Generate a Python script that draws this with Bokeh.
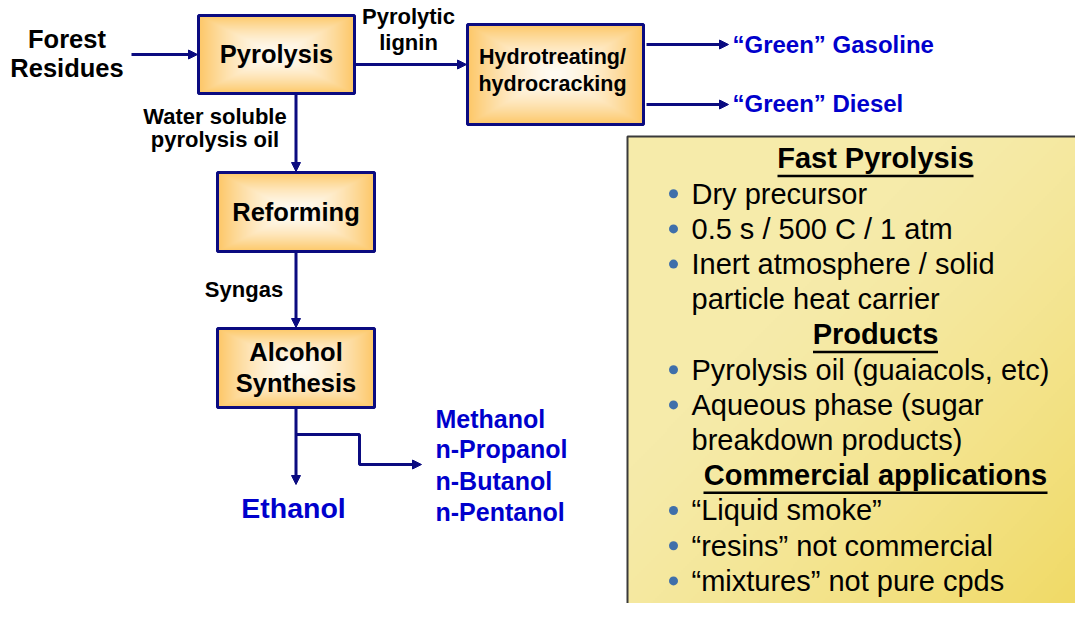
import numpy as np
from bokeh.plotting import figure
from bokeh.models import Range1d, Arrow, NormalHead
from bokeh.core.properties import value
from bokeh.embed import file_html
from bokeh.resources import INLINE

# ---------------- content ----------------
feed_lines = ["Forest", "Residues"]
box_labels = [["Pyrolysis"], ["Hydrotreating/", "hydrocracking"], ["Reforming"], ["Alcohol", "Synthesis"]]
stream_labels = [["Pyrolytic", "lignin"], ["Water soluble", "pyrolysis oil"], ["Syngas"]]
fuel_products = ["\u201cGreen\u201d Gasoline", "\u201cGreen\u201d Diesel"]
ethanol_product = ["Ethanol"]
other_alcohols = ["Methanol", "n-Propanol", "n-Butanol", "n-Pentanol"]
panel_headers = ["Fast Pyrolysis", "Products", "Commercial applications"]
panel_bullets = [
    [["Dry precursor"], ["0.5 s / 500 C / 1 atm"], ["Inert atmosphere / solid", "particle heat carrier"]],
    [["Pyrolysis oil (guaiacols, etc)"], ["Aqueous phase (sugar", "breakdown products)"]],
    [["\u201cLiquid smoke\u201d"], ["\u201cresins\u201d not commercial"], ["\u201cmixtures\u201d not pure cpds"]],
]

# ---------------- styles / layout ----------------
NAVY = "#0B0B80"
BLUE = "#0000CC"
FONT = value("Liberation Sans")
K = 0.38  # baseline correction factor (fraction of font size)

p = figure(width=1075, height=603, x_range=Range1d(0, 1075), y_range=Range1d(603, 0),
           output_backend="svg", toolbar_location=None, min_border=0,
           x_axis_location=None, y_axis_location=None)
p.grid.visible = False
p.outline_line_color = None
p.background_fill_color = "white"


def hex2rgb(h):
    return np.array([int(h[i:i + 2], 16) for i in (1, 3, 5)], float)


def to_rgba(col):
    h, w, _ = col.shape
    img = np.empty((h, w), dtype=np.uint32)
    v = img.view(dtype=np.uint8).reshape((h, w, 4))
    v[..., :3] = np.clip(col, 0, 255).astype(np.uint8)
    v[..., 3] = 255
    return img


def box_gradient(w, h, edge="#FDC766", center="#FFFBF2"):
    ys, xs = np.mgrid[0:h, 0:w]
    dx = np.abs((xs + 0.5) / w * 2 - 1)
    dy = np.abs((ys + 0.5) / h * 2 - 1)
    t = np.clip(np.maximum(dx, dy), 0, 1) ** 1.6
    c0, c1 = hex2rgb(center), hex2rgb(edge)
    col = c0[None, None, :] * (1 - t[..., None]) + c1[None, None, :] * t[..., None]
    return to_rgba(col)


def panel_gradient(w, h, light="#F6EBAA", dark="#F0D962"):
    ys, xs = np.mgrid[0:h, 0:w]
    u = xs / (w - 1)
    v = ys / (h - 1)
    t = (u + v) / 2
    s = np.clip((t - 0.35) / 0.65, 0, 1) ** 1.3
    c0, c1 = hex2rgb(light), hex2rgb(dark)
    col = c0[None, None, :] * (1 - s[..., None]) + c1[None, None, :] * s[..., None]
    return to_rgba(col)


def label(xs, ys, texts, fs, color="black", bold=True, align="center"):
    p.text(x=xs, y=[yy - K * fs for yy in ys], text=texts, text_font=FONT,
           text_font_style="bold" if bold else "normal", text_font_size=f"{fs}px",
           text_align=align, text_baseline="alphabetic", text_color=color)


# ---- side panel ----
PX0, PX1, PY0, PY1 = 627, 1091, 136, 614
p.quad(left=[PX0 + 4], right=[PX1 + 4], top=[PY0 + 4], bottom=[PY1 + 5],
       fill_color="#A6A6A6", line_color=None)
pimg = panel_gradient((PX1 - PX0) // 2, (PY1 - PY0) // 2)
p.image_rgba(image=[pimg], x=PX0, y=PY0, dw=PX1 - PX0, dh=PY1 - PY0)
p.quad(left=[PX0], right=[PX1], top=[PY0], bottom=[PY1],
       fill_color=None, line_color="#3A3A3A", line_width=2)

# ---- process boxes ----
boxes = [(198, 354, 15, 93), (467, 643, 24, 124), (217, 374, 172, 251), (217, 374, 328, 407)]
for (x0, x1, y0, y1) in boxes:
    p.image_rgba(image=[box_gradient(x1 - x0, y1 - y0)], x=x0, y=y0, dw=x1 - x0, dh=y1 - y0)
p.quad(left=[b[0] for b in boxes], right=[b[1] for b in boxes],
       top=[b[2] for b in boxes], bottom=[b[3] for b in boxes],
       fill_color=None, line_color=NAVY, line_width=3)

box_text_x = [276, 552, 295.5, 295.5]
box_text_y = [[63], [65, 92], [221], [361, 392]]
box_text_size = [25.5, 21.5, 25.5, 25.5]
for labels, x, ys, fs in zip(box_labels, box_text_x, box_text_y, box_text_size):
    label([x] * len(labels), ys, labels, fs)

# ---- flows ----
def arrow(xs, ys):
    p.add_layout(Arrow(end=NormalHead(size=9, line_color=NAVY, fill_color=NAVY, line_width=1),
                       x_start=xs[0], y_start=ys[0], x_end=xs[1], y_end=ys[1],
                       line_color=NAVY, line_width=3))

arrow((131, 197), (54, 54))
arrow((354, 466), (64, 64))
arrow((295.5, 295.5), (93, 171))
arrow((295.5, 295.5), (251, 327))
arrow((295.5, 295.5), (407, 484))
p.line(x=[295.5, 359, 359, 400], y=[434, 434, 464, 464], line_color=NAVY, line_width=3)
arrow((398, 421), (464, 464))
arrow((646, 728), (44, 44))
arrow((646, 728), (104, 104))

# ---- labels ----
label([66.5, 66.5], [48, 77], feed_lines, 25.5)

stream_x = [408, 214.5, 243.5]
stream_y = [[24, 50.5], [124, 147.5], [297]]
for labels, x, ys in zip(stream_labels, stream_x, stream_y):
    label([x] * len(labels), ys, labels, 22)

label([732, 732], [53, 112], fuel_products, 24, color=BLUE, align="left")
label([293], [518], ethanol_product, 28.5, color=BLUE)
label([435] * 4, [427.5, 458, 489.5, 521], other_alcohols, 25, color=BLUE, align="left")

# ---- panel text ----
LINE = 35.2
y = 169.0
head_half = [98, 62.5, 172]
for hdr, bullets, hw in zip(panel_headers, panel_bullets, head_half):
    label([875], [y], [hdr], 29)
    p.segment(x0=[875 - hw], x1=[875 + hw], y0=[y + 6.5], y1=[y + 6.5], line_color="black", line_width=2.5)
    y += LINE
    for lines in bullets:
        p.scatter(x=[673], y=[y - 11], size=9, marker="circle", fill_color="#3F6FAA", line_color=None)
        for ln in lines:
            label([691], [y], [ln], 29, bold=False, align="left")
            y += LINE

open("out.html", "w").write(file_html(p, INLINE))
